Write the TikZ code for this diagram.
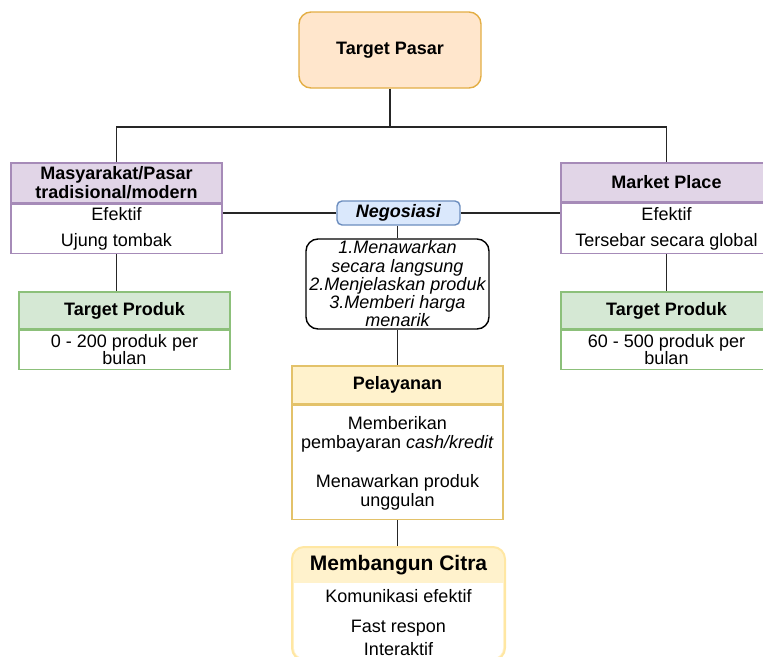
\documentclass[tikz,border=0pt]{standalone}
\usepackage{fontspec}
\setmainfont{Liberation Sans}
\usepackage{xcolor}
\usepackage{tikz}
\usetikzlibrary{calc,positioning}

\definecolor{orangefill}{HTML}{FFE6CC}
\definecolor{orangeline}{HTML}{E3AE45}
\definecolor{purplefill}{HTML}{E1D5E7}
\definecolor{purpleline}{HTML}{A68BB8}
\definecolor{greenfill}{HTML}{D5E8D4}
\definecolor{greenline}{HTML}{8CC07A}
\definecolor{bluefill}{HTML}{DAE8FC}
\definecolor{blueline}{HTML}{6C8EBF}
\definecolor{yellowfill}{HTML}{FFF2CC}
\definecolor{yellowline}{HTML}{E3C26A}
\definecolor{citraline}{HTML}{FFE7A3}

\begin{document}
\begin{tikzpicture}[x=1pt, y=-1pt,
    txt/.style={font=\fontsize{18}{18.3}\selectfont, align=center, inner sep=0pt},
    boldtxt/.style={txt, font=\fontsize{18}{19}\selectfont\bfseries},
    head/.style={boldtxt, draw, line width=1.4pt, minimum width=211pt},
    body/.style={txt, draw, line width=1.4pt, fill=white, minimum width=211pt},
    pasarbox/.style={boldtxt, draw=orangeline, fill=orangefill, line width=1.4pt,
        rounded corners=12pt, minimum width=182pt, minimum height=76pt},
    negobox/.style={boldtxt, draw=blueline, fill=bluefill, line width=1.4pt,
        rounded corners=5pt, minimum width=123pt, minimum height=24pt},
    listbox/.style={txt, font=\fontsize{18}{18.25}\selectfont\itshape, draw=black,
        line width=1.4pt, rounded corners=12pt, minimum width=183pt, minimum height=90pt},
    link/.style={line width=1.6pt, black!85}]

        \useasboundingbox (0,0) rectangle (763,656);
        \clip (0,0) rectangle (763,656);

        % Draw top box
        \node[pasarbox] (pasar) at (390,50) {Target Pasar};

        % Draw market boxes
        \node[head, draw=purpleline, fill=purplefill, minimum height=40pt] (mas) at (116.5,183)
            {Masyarakat/Pasar\\tradisional/modern};
        \node[body, draw=purpleline, minimum height=49pt, below=0pt of mas] (masbody)
            {Efektif\\[7.7pt]Ujung tombak};
        \node[head, draw=purpleline, fill=purplefill, minimum height=39pt] (mp) at (666.5,182.5)
            {Market Place};
        \node[body, draw=purpleline, minimum height=50pt, below=0pt of mp] (mpbody)
            {Efektif\\[7.7pt]Tersebar secara global};

        % Draw target produk boxes
        \node[head, draw=greenline, fill=greenfill, minimum height=37pt] (tpkiri) at (124.5,310.5)
            {Target Produk};
        \node[body, draw=greenline, minimum height=39pt, below=0pt of tpkiri] (tpkiribody)
            {0 - 200 produk per\\[-1.3pt]bulan};
        \node[head, draw=greenline, fill=greenfill, minimum height=37pt] (tpkanan) at (666.5,310.5)
            {Target Produk};
        \node[body, draw=greenline, minimum height=39pt, below=0pt of tpkanan] (tpkananbody)
            {60 - 500 produk per\\[-1.3pt]bulan};

        % Draw negosiasi
        \node[negobox] (nego) at (398.5,213) {\textit{Negosiasi}};
        \node[listbox] (cara) at (397.5,284)
            {1.Menawarkan\\secara langsung\\2.Menjelaskan produk\\3.Memberi harga\\menarik};

        % Draw pelayanan
        \node[head, draw=yellowline, fill=yellowfill, minimum height=38pt] (pel) at (397.5,385)
            {Pelayanan};
        \node[body, draw=yellowline, minimum height=114pt, below=0pt of pel] (pelbody) {};
        \node[txt, font=\fontsize{18}{19.2}\selectfont] (peltext) at (397.5,463.5)
            {Memberikan\\pembayaran \textit{cash/kredit}\\[19.5pt]Menawarkan produk\\unggulan};

        % Draw membangun citra
        \node[draw=citraline, fill=yellowfill, line width=2pt, rounded corners=12pt,
            minimum width=213pt, minimum height=113pt, inner sep=0pt] (citra) at (398.5,603.5) {};
        \fill[white] (294,583) [rounded corners=10pt] -- (294,658) -- (503,658)
            [sharp corners] -- (503,583) -- cycle;
        \node[txt, font=\fontsize{21}{22}\selectfont\bfseries] (citrahead) at (398.5,565)
            {Membangun Citra};
        \node[txt] (citrabody) at (398.5,623)
            {Komunikasi efektif\\[11.7pt]Fast respon\\[4.7pt]Interaktif};

        % Draw connectors
        \coordinate (split) at (390,127);
        \draw[link] (pasar.south) -- (split);
        \draw[link] (mas.north) |- (split) -| (mp.north);
        \draw[link] (nego.west) -- (nego.west -| masbody.east);
        \draw[link] (nego.east) -- (nego.east -| mpbody.west);
        \draw[link] (masbody.south) -- (masbody.south |- tpkiri.north);
        \draw[link] (mpbody.south) -- (mpbody.south |- tpkanan.north);
        \draw[link] (cara.north |- nego.south) -- (cara.north);
        \draw[link] (cara.south) -- (pel.north);
        \draw[link] (pelbody.south) -- (pelbody.south |- citra.north);
\end{tikzpicture}
\end{document}
